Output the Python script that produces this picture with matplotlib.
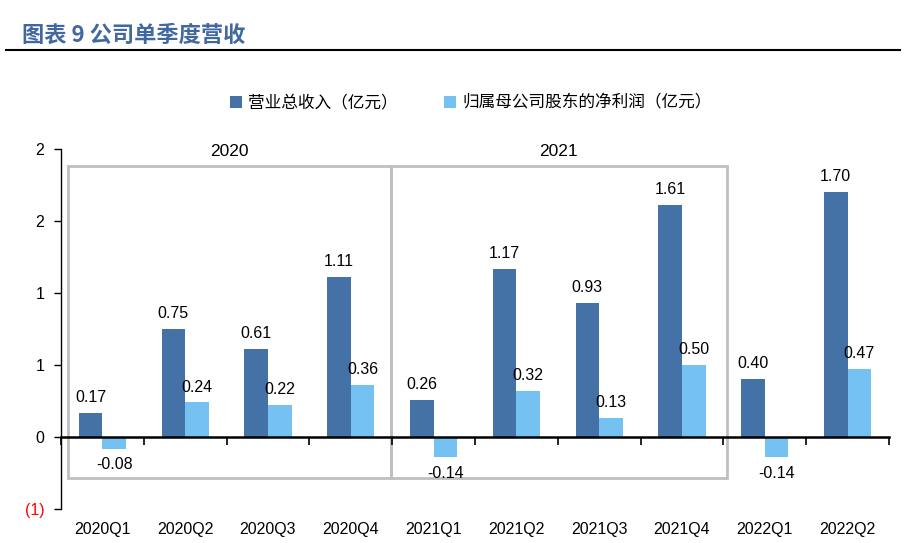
import numpy as np
import matplotlib
matplotlib.use("Agg")
import matplotlib.pyplot as plt
from matplotlib.patches import Rectangle, Patch
from matplotlib.lines import Line2D

plt.rcParams['font.family'] = ['Liberation Sans', 'Noto Sans CJK SC', 'DejaVu Sans']

quarters = ["2020Q1", "2020Q2", "2020Q3", "2020Q4", "2021Q1", "2021Q2",
            "2021Q3", "2021Q4", "2022Q1", "2022Q2"]
revenue = [0.17, 0.75, 0.61, 1.11, 0.26, 1.17, 0.93, 1.61, 0.40, 1.70]
net_profit = [-0.08, 0.24, 0.22, 0.36, -0.14, 0.32, 0.13, 0.50, -0.14, 0.47]
ytick_vals = [-0.5, 0, 0.5, 1.0, 1.5, 2.0]
ytick_labels = ["(1)", "0", "1", "1", "2", "2"]
year_groups = [("2020", -0.42, 3.485), ("2021", 3.485, 7.54)]
rev_name = "营业总收入（亿元）"
np_name = "归属母公司股东的净利润（亿元）"
title = "图表 9 公司单季度营收"

c_dark = "#4472A6"
c_light = "#74C1F2"

fig = plt.figure(figsize=(9.2, 5.43), dpi=100)
ax = fig.add_axes([61 / 920, 1 - 509 / 543, 828 / 920, 360 / 543])

x = np.arange(len(quarters))
w = 0.285
ax.bar(x - w / 2, revenue, w, color=c_dark)
ax.bar(x + w / 2, net_profit, w, color=c_light)

for xi, v in zip(x, revenue):
    ax.text(xi - w / 2, v + 0.055, f"{v:.2f}", ha="center", va="bottom", fontsize=11.5)
for xi, v in zip(x, net_profit):
    if v >= 0:
        ax.text(xi + w / 2, v + 0.055, f"{v:.2f}", ha="center", va="bottom", fontsize=11.5)
    else:
        ax.text(xi + w / 2, v - 0.06, f"{v:.2f}", ha="center", va="top", fontsize=11.5)

ax.set_xlim(-0.5, len(quarters) - 0.5)
ax.set_ylim(-0.5, 2.0)
ax.set_yticks(ytick_vals)
ax.set_yticklabels(ytick_labels, fontsize=11.5)
ax.get_yticklabels()[0].set_color("red")
ax.tick_params(axis="y", length=5, width=1, pad=7)

for s in ["top", "right"]:
    ax.spines[s].set_visible(False)
ax.spines["left"].set_linewidth(1)
ax.spines["bottom"].set_position(("data", 0))
ax.spines["bottom"].set_linewidth(1.8)
ax.set_xticks(np.arange(-0.5, len(quarters), 1.0))
ax.set_xticklabels([])
ax.tick_params(axis="x", length=6, width=1.2, direction="out")

for xi, q in zip(x, quarters):
    ax.text(xi, -0.035, q, transform=ax.get_xaxis_transform(), ha="center",
            va="top", fontsize=11.5)

for name, x0, x1 in year_groups:
    ax.add_patch(Rectangle((x0, -0.285), x1 - x0, 1.882 + 0.285, fill=False,
                           edgecolor="#BFBFBF", linewidth=2, clip_on=False))
    ax.text((x0 + x1) / 2, 1.93, name, ha="center", va="bottom", fontsize=12.5)

handles = [Patch(facecolor=c_dark), Patch(facecolor=c_light)]
fig.legend(handles, [rev_name, np_name], loc="center", bbox_to_anchor=(0.512, 1 - 103 / 543),
           ncol=2, frameon=False, handlelength=0.7, handleheight=0.7,
           handletextpad=0.4, columnspacing=2.8, prop={"family": ["Noto Sans CJK SC"], "size": 12})

fig.text(22 / 920, 1 - 35 / 543, title, ha="left", va="center", fontsize=16,
         fontweight="bold", color="#4169A0", family=["Noto Sans CJK SC"])
fig.add_artist(Line2D([6 / 920, 900 / 920], [1 - 50 / 543, 1 - 50 / 543], color="black",
                      linewidth=1.5))

fig.savefig("out.png", dpi=100)
